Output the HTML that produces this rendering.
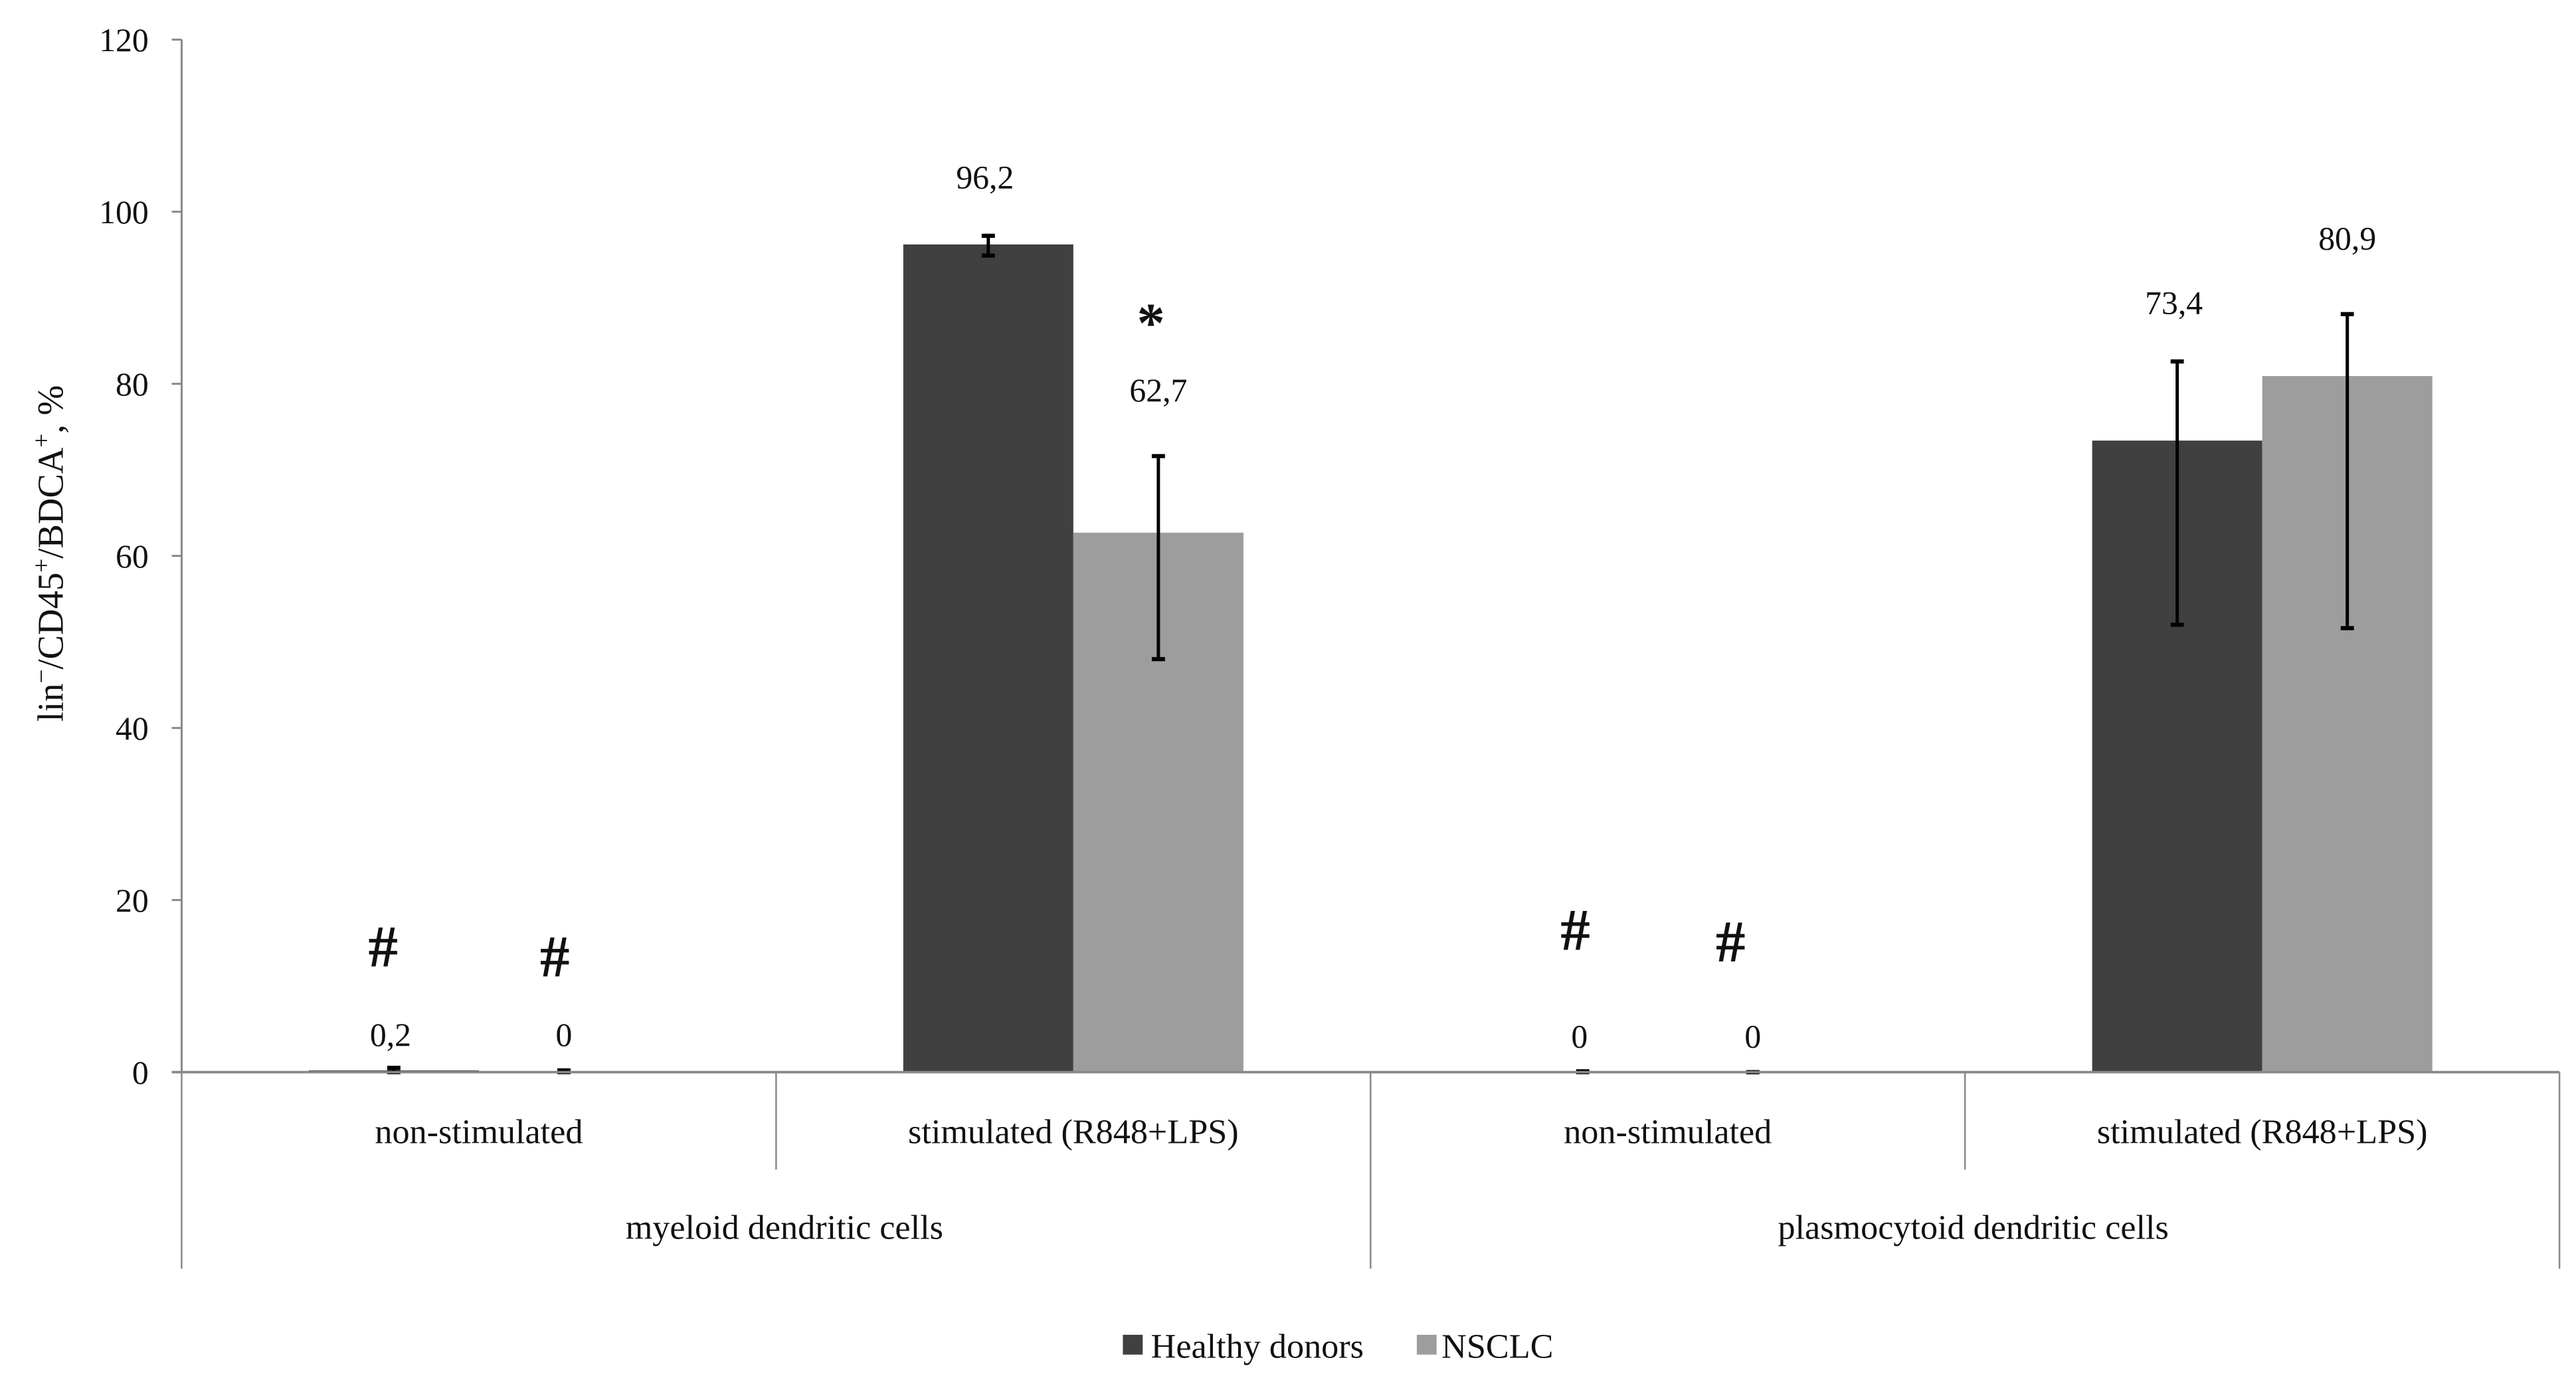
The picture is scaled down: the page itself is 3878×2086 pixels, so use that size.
<!DOCTYPE html>
<html><head><meta charset="utf-8"><style>
html,body{margin:0;padding:0;background:#fff;}
svg{display:block;}
text{font-family:"Liberation Serif",serif;fill:#111;}
</style></head><body>
<svg id="chart" width="3878" height="2086" viewBox="0 0 1560 839" preserveAspectRatio="none" xmlns="http://www.w3.org/2000/svg">
<text transform="translate(38,335) rotate(-90)" text-anchor="middle" font-size="22">lin<tspan baseline-shift="super" font-size="15">−</tspan>/CD45<tspan baseline-shift="super" font-size="15">+</tspan>/BDCA<tspan baseline-shift="super" font-size="15">+</tspan>, %</text>
<g id="marks"></g>
<g>
<rect x="680" y="808" width="12" height="12" fill="#404040"/>
<text x="697" y="822" font-size="21">Healthy donors</text>
<rect x="858" y="808" width="12" height="12" fill="#9d9d9d"/>
<text x="873" y="822" font-size="21">NSCLC</text>
</g>
</svg>
<script>
const categories = ["non-stimulated","stimulated (R848+LPS)","non-stimulated","stimulated (R848+LPS)"];
const groups = ["myeloid dendritic cells","plasmocytoid dendritic cells"];
const healthy = [0.2, 96.2, 0, 73.4];
const nsclc = [0, 62.7, 0, 80.9];
const healthyErrUp = [0.3, 1.0, 0.1, 9.2];
const healthyErrDown = [0.2, 1.3, 0, 21.4];
const nsclcErrUp = [0.2, 8.9, 0, 7.2];
const nsclcErrDown = [0, 14.7, 0, 29.3];
const healthyLabels = ["0,2","96,2","0","73,4"];
const nsclcLabels = ["0","62,7","0","80,9"];
const yTicks = [0,20,40,60,80,100,120];

const X0=110, X1=1550, Y0=649, Y120=24;
const catW=(X1-X0)/categories.length, barW=103;
const y = v => Y0 - (v/120)*(Y0-Y120);
const cx = i => X0 + catW*i + catW/2;
const NS="http://www.w3.org/2000/svg";
const g=document.getElementById('marks');
function mk(tag, attrs){const e=document.createElementNS(NS,tag);for(const k in attrs)e.setAttribute(k,attrs[k]);g.appendChild(e);return e;}

let ax=mk('line',{x1:X0,y1:Y120,x2:X0,y2:Y0,stroke:'#888','stroke-width':1.2});


yTicks.forEach(t=>{
  const tk=mk('line',{x1:X0-6,y1:y(t),x2:X0,y2:y(t),stroke:'#888','stroke-width':1.2});
  
  
  const tl=mk('text',{x:X0-20,y:y(t)+7,'text-anchor':'end','font-size':20});
  tl.textContent=t;
  
  
});

function errbar(x,v,up,down,name){
  const top=y(v+up), bot=y(v-down);
  const l=mk('line',{x1:x,y1:top,x2:x,y2:bot,stroke:'#000','stroke-width':2});
  
  
  mk('line',{x1:x-4,y1:top,x2:x+4,y2:top,stroke:'#000','stroke-width':2.5});
  mk('line',{x1:x-4,y1:bot,x2:x+4,y2:bot,stroke:'#000','stroke-width':2.5});
}

categories.forEach((c,i)=>{
  const c0=cx(i);
  const h=mk('rect',{x:c0-barW,y:y(healthy[i]),width:barW,height:Y0-y(healthy[i]),fill:'#404040'});
  
  
  const n=mk('rect',{x:c0,y:y(nsclc[i]),width:barW,height:Y0-y(nsclc[i]),fill:'#9d9d9d'});
  
  
  errbar(c0-barW/2,healthy[i],healthyErrUp[i],healthyErrDown[i],'error-bar-healthy-'+i);
  errbar(c0+barW/2,nsclc[i],nsclcErrUp[i],nsclcErrDown[i],'error-bar-nsclc-'+i);
  const cl=mk('text',{x:c0,y:692,'text-anchor':'middle','font-size':21});
  cl.textContent=c;
  
  
});
const hY=[633,114,634,190], nY=[633,243,634,151];
categories.forEach((c,i)=>{
  const a=mk('text',{x:cx(i)-barW/2-2,y:hY[i],'text-anchor':'middle','font-size':20});
  a.textContent=healthyLabels[i];
  
  
  const b=mk('text',{x:cx(i)+barW/2,y:nY[i],'text-anchor':'middle','font-size':20});
  b.textContent=nsclcLabels[i];
  
  
});
let bl=mk('line',{x1:X0-6,y1:Y0,x2:X1,y2:Y0,stroke:'#888','stroke-width':1.5});


for(let i=1;i<=categories.length;i++){
  const x=X0+catW*i;
  if(i%2===1){const s=mk('line',{x1:x,y1:Y0,x2:x,y2:708,stroke:'#888','stroke-width':1});}
}
[0,2,4].forEach(i=>{const x=X0+catW*i;const s=mk('line',{x1:x,y1:Y0,x2:x,y2:768,stroke:'#888','stroke-width':1});});
groups.forEach((gname,i)=>{
  const t=mk('text',{x:X0+catW*2*i+catW+5,y:750,'text-anchor':'middle','font-size':21});
  t.textContent=gname;
  
  
});
[[232,585,'#'],[336,591,'#'],[954,575,'#'],[1048,582,'#']].forEach(m=>{
  const t=mk('text',{x:m[0],y:m[1],'text-anchor':'middle','font-size':36,'font-weight':'bold'});
  t.textContent=m[2];
  
  
});
const st=mk('text',{x:697,y:207,'text-anchor':'middle','font-size':34,'font-weight':'bold'});
st.textContent='*';


</script>
</body></html>
